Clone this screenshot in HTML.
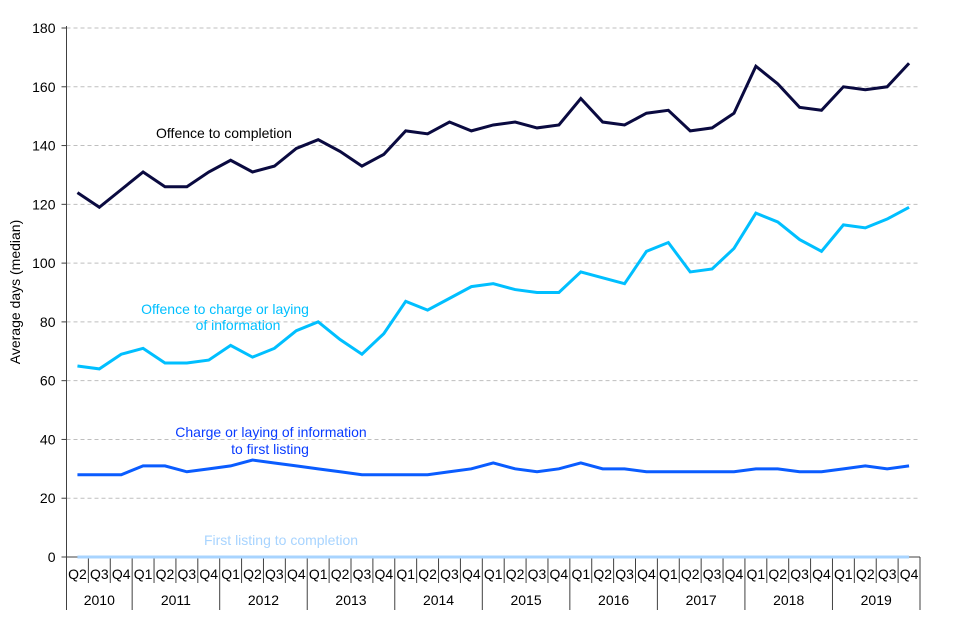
<!DOCTYPE html>
<html><head><meta charset="utf-8"><style>
html,body{margin:0;padding:0;background:#fff;}
svg{display:block;font-family:"Liberation Sans",Arial,sans-serif;}
</style></head><body>
<svg id="chart" width="960" height="640" viewBox="0 0 960 640" xmlns="http://www.w3.org/2000/svg">
<g id="grid"></g>
<g id="yaxis"></g>
<g id="xaxis"></g>
<g id="series"></g>
<text transform="translate(20,292) rotate(-90)" text-anchor="middle" font-size="14" fill="#000">Average days (median)</text>
<text x="224" y="138" text-anchor="middle" font-size="14" fill="#000">Offence to completion</text>
<text x="225" y="314" text-anchor="middle" font-size="14" fill="#00bfff">Offence to charge or laying</text>
<text x="238" y="330" text-anchor="middle" font-size="14" fill="#00bfff">of information</text>
<text x="271" y="437" text-anchor="middle" font-size="14" fill="#0a3cff">Charge or laying  of information</text>
<text x="270" y="454" text-anchor="middle" font-size="14" fill="#0a3cff">to first listing</text>
<text x="281" y="545" text-anchor="middle" font-size="14" fill="#a8d4ff">First listing to completion</text>
</svg>
<script>
const quarters = ["Q2","Q3","Q4","Q1","Q2","Q3","Q4","Q1","Q2","Q3","Q4","Q1","Q2","Q3","Q4","Q1","Q2","Q3","Q4","Q1","Q2","Q3","Q4","Q1","Q2","Q3","Q4","Q1","Q2","Q3","Q4","Q1","Q2","Q3","Q4","Q1","Q2","Q3","Q4"];
const years = ["2010","2011","2012","2013","2014","2015","2016","2017","2018","2019"];
const yearCounts = [3,4,4,4,4,4,4,4,4,4];
const yTicks = [0,20,40,60,80,100,120,140,160,180];
const offenceToCompletion = [124,119,125,131,126,126,131,135,131,133,139,142,138,133,137,145,144,148,145,147,148,146,147,156,148,147,151,152,145,146,151,167,161,153,152,160,159,160,168];
const offenceToCharge = [65,64,69,71,66,66,67,72,68,71,77,80,74,69,76,87,84,88,92,93,91,90,90,97,95,93,104,107,97,98,105,117,114,108,104,113,112,115,119];
const chargeToListing = [28,28,28,31,31,29,30,31,33,32,31,30,29,28,28,28,28,29,30,32,30,29,30,32,30,30,29,29,29,29,29,30,30,29,29,30,31,30,31];
const listingToCompletion = [0,0,0,0,0,0,0,0,0,0,0,0,0,0,0,0,0,0,0,0,0,0,0,0,0,0,0,0,0,0,0,0,0,0,0,0,0,0,0];

const NS="http://www.w3.org/2000/svg";
const X0=66.5, X1=920, Y0=557, Y1=28, YMAX=180;
const bw=(X1-X0)/quarters.length;
const xS=i=>X0+bw*(i+0.5);
const yS=v=>Y0-(v/YMAX)*(Y0-Y1);
function mk(tag,attrs,parent){const e=document.createElementNS(NS,tag);for(const k in attrs)e.setAttribute(k,attrs[k]);parent.appendChild(e);return e;}
const grid=document.getElementById('grid'),yax=document.getElementById('yaxis'),xax=document.getElementById('xaxis'),ser=document.getElementById('series');
yTicks.forEach(t=>{
  if(t>0){const g=mk('line',{x1:X0,x2:X1,y1:yS(t),y2:yS(t),stroke:'#bfbfbf','stroke-dasharray':'4,3','stroke-width':1},grid);
  
  }
  const tk=mk('line',{x1:X0-5,x2:X0,y1:yS(t),y2:yS(t),stroke:'#404040'},yax);
  
  
  const tx=mk('text',{x:X0-11,y:yS(t)+5,'text-anchor':'end','font-size':14,fill:'#000'},yax);
  tx.textContent=t;
  
  
});
const ya=mk('line',{x1:X0,x2:X0,y1:Y1-2,y2:Y0,stroke:'#404040'},yax);


const xa=mk('line',{x1:X0,x2:X1,y1:Y0,y2:Y0,stroke:'#404040'},xax);


for(let i=0;i<=quarters.length;i++){
  const l=mk('line',{x1:X0+bw*i,x2:X0+bw*i,y1:Y0,y2:583,stroke:'#404040'},xax);
  
  
}
quarters.forEach((q,i)=>{
  const t=mk('text',{x:xS(i),y:579,'text-anchor':'middle','font-size':14,fill:'#000'},xax);
  t.textContent=q;
  
  
});
let s=0;
years.forEach((y,k)=>{
  const n=yearCounts[k];
  const l=mk('line',{x1:X0+bw*s,x2:X0+bw*s,y1:583,y2:610,stroke:'#404040'},xax);
  
  
  const t=mk('text',{x:X0+bw*(s+n/2),y:605,'text-anchor':'middle','font-size':14,fill:'#000'},xax);
  t.textContent=y;
  
  
  s+=n;
});
const le=mk('line',{x1:X1,x2:X1,y1:583,y2:610,stroke:'#404040'},xax);


function line(data,color,name){
  const p=mk('polyline',{points:data.map((v,i)=>xS(i)+','+yS(v)).join(' '),fill:'none',stroke:color,'stroke-width':3,'stroke-linejoin':'miter'},ser);
  
  
}
line(listingToCompletion,'#a8d4ff','line-listing-to-completion');
line(chargeToListing,'#0a5cff','line-charge-to-listing');
line(offenceToCharge,'#00bfff','line-offence-to-charge');
line(offenceToCompletion,'#0a0a40','line-offence-to-completion');
</script>
</body></html>
